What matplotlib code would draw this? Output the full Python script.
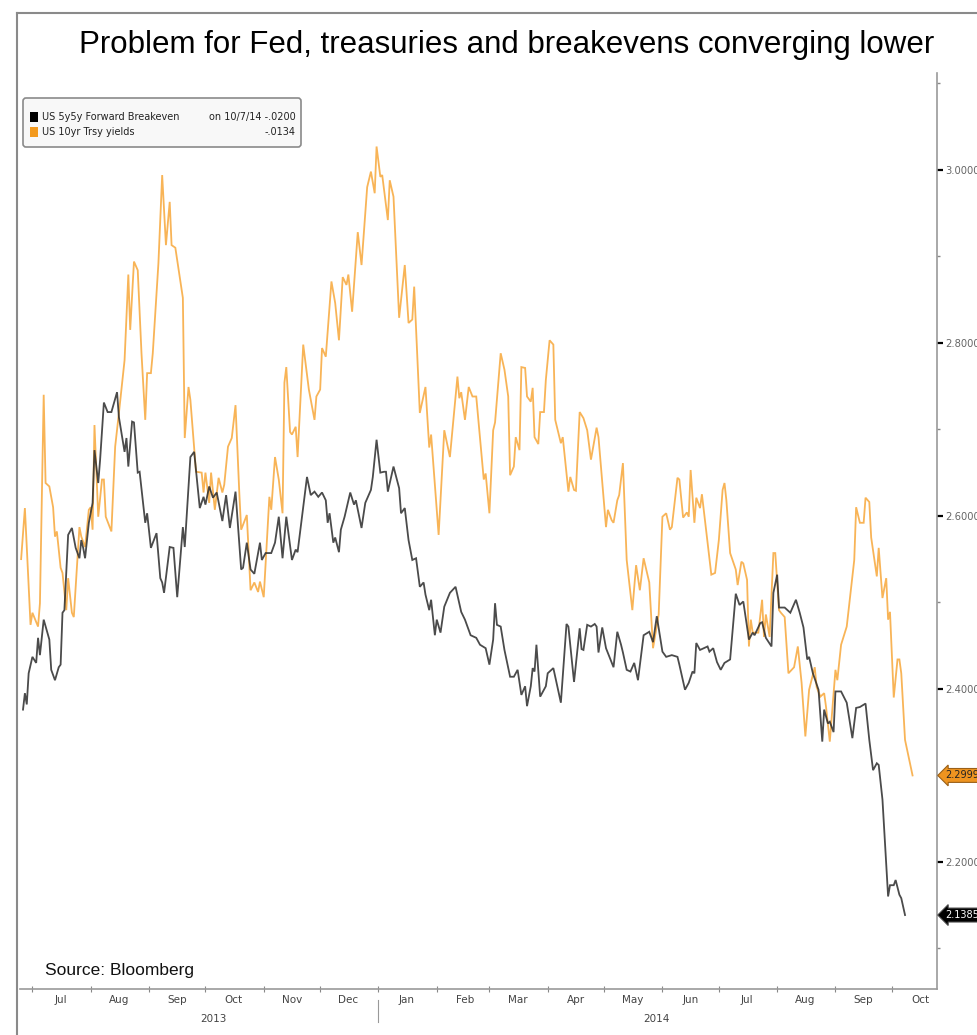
import matplotlib
matplotlib.use("Agg")
import matplotlib.pyplot as plt
import matplotlib.dates as mdates
import pandas as pd
from matplotlib.patches import FancyBboxPatch
from matplotlib.lines import Line2D

plt.rcParams['font.family'] = ['Liberation Sans', 'DejaVu Sans']

# day offsets from 2013-07-01 and values
START = pd.Timestamp("2013-07-01")

be_days = [-5, -4, -3, -2, 0, 2, 3, 4, 6, 9, 10, 12, 14, 15, 16, 17, 19, 21, 23, 25,
           26, 27, 28, 30, 32, 33, 35, 36, 38, 40, 42, 45, 46, 49, 50, 51, 53, 54, 56, 57,
           60, 61, 63, 66, 68, 69, 70, 73, 75, 77, 80, 81, 84, 86, 89, 91, 92, 94, 96, 98,
           101, 103, 105, 108, 111, 112, 114, 116, 118, 121, 122, 124, 127, 129, 131, 133, 135, 138, 140, 141,
           146, 148, 150, 152, 154, 156, 157, 158, 160, 161, 163, 164, 166, 169, 171, 172, 175, 177, 180, 181,
           183, 185, 187, 188, 189, 192, 195, 196, 198, 200, 202, 204, 206, 208, 209, 211, 212, 214, 215, 217,
           219, 222, 225, 228, 230, 233, 236, 238, 241, 243, 245, 246, 247, 249, 251, 254, 256, 258, 260, 262,
           263, 265, 266, 267, 268, 270, 273, 274, 277, 281, 284, 285, 288, 291, 292, 293, 295, 297, 299, 300,
           301, 303, 305, 309, 311, 313, 314, 316, 318, 320, 322, 325, 328, 330, 332, 335, 337, 340, 343, 344,
           347, 349, 351, 352, 353, 355, 359, 360, 362, 364, 366, 368, 371, 374, 376, 378, 381, 383, 384, 387,
           388, 390, 393, 394, 396, 397, 400, 403, 406, 408, 410, 412, 413, 415, 418, 420, 421, 423, 424, 426,
           427, 430, 433, 436, 438, 440, 443, 445, 447, 449, 450, 452, 455, 456, 458, 459, 461, 462, 464]
be_vals = [2.376, 2.395, 2.382, 2.418, 2.437, 2.430, 2.459, 2.439, 2.480, 2.457, 2.422, 2.410, 2.425, 2.428, 2.488, 2.491, 2.578, 2.586, 2.563, 2.551,
           2.572, 2.563, 2.551, 2.592, 2.615, 2.676, 2.638, 2.665, 2.731, 2.720, 2.720, 2.743, 2.714, 2.674, 2.690, 2.657, 2.709, 2.708, 2.650, 2.651,
           2.592, 2.603, 2.563, 2.580, 2.528, 2.523, 2.511, 2.564, 2.563, 2.506, 2.587, 2.564, 2.668, 2.674, 2.609, 2.622, 2.613, 2.634, 2.621, 2.627,
           2.594, 2.624, 2.586, 2.628, 2.538, 2.540, 2.569, 2.538, 2.533, 2.569, 2.549, 2.557, 2.557, 2.569, 2.599, 2.551, 2.599, 2.549, 2.561, 2.558,
           2.645, 2.624, 2.628, 2.622, 2.627, 2.618, 2.592, 2.603, 2.569, 2.575, 2.558, 2.584, 2.599, 2.627, 2.613, 2.618, 2.586, 2.615, 2.630, 2.645,
           2.688, 2.650, 2.651, 2.651, 2.628, 2.657, 2.632, 2.603, 2.609, 2.572, 2.549, 2.551, 2.518, 2.523, 2.509, 2.491, 2.503, 2.462, 2.480, 2.465,
           2.495, 2.511, 2.518, 2.489, 2.480, 2.462, 2.459, 2.451, 2.447, 2.428, 2.457, 2.499, 2.474, 2.472, 2.445, 2.414, 2.414, 2.422, 2.393, 2.403,
           2.380, 2.403, 2.424, 2.420, 2.451, 2.391, 2.403, 2.418, 2.424, 2.384, 2.475, 2.472, 2.408, 2.470, 2.446, 2.445, 2.474, 2.472, 2.475, 2.472,
           2.442, 2.471, 2.447, 2.425, 2.466, 2.451, 2.442, 2.422, 2.420, 2.430, 2.410, 2.462, 2.466, 2.454, 2.484, 2.443, 2.437, 2.439, 2.437, 2.428,
           2.399, 2.407, 2.420, 2.418, 2.453, 2.445, 2.449, 2.443, 2.447, 2.431, 2.422, 2.430, 2.434, 2.510, 2.497, 2.501, 2.457, 2.465, 2.462, 2.476,
           2.477, 2.459, 2.449, 2.511, 2.532, 2.494, 2.494, 2.488, 2.503, 2.488, 2.471, 2.434, 2.437, 2.418, 2.399, 2.339, 2.376, 2.360, 2.362, 2.350,
           2.397, 2.397, 2.384, 2.343, 2.378, 2.379, 2.383, 2.341, 2.306, 2.314, 2.312, 2.272, 2.160, 2.173, 2.173, 2.179, 2.162, 2.158, 2.1385]

ty_days = [-6, -4, -1, 0, 3, 4, 6, 7, 9, 11, 12, 13, 15, 16, 18, 19, 21, 22, 23, 25,
           26, 28, 30, 31, 32, 33, 35, 37, 38, 39, 42, 44, 46, 49, 51, 52, 54, 56, 58, 60,
           61, 63, 64, 67, 69, 71, 73, 74, 76, 80, 81, 83, 84, 87, 90, 91, 92, 94, 95, 97,
           99, 101, 102, 104, 106, 108, 110, 111, 114, 116, 118, 120, 121, 123, 126, 127, 129, 131, 133, 134,
           135, 137, 138, 140, 141, 144, 147, 150, 151, 153, 154, 156, 159, 161, 163, 165, 167, 168, 170, 173,
           175, 178, 180, 182, 183, 185, 186, 189, 190, 192, 195, 198, 200, 202, 203, 206, 209, 211, 212, 216,
           219, 222, 226, 227, 228, 230, 232, 234, 236, 240, 241, 243, 245, 246, 249, 251, 253, 254, 256, 257,
           259, 260, 262, 263, 265, 266, 267, 269, 270, 272, 273, 275, 277, 278, 281, 282, 285, 286, 288, 289,
           291, 293, 295, 297, 300, 301, 305, 306, 308, 309, 311, 312, 314, 316, 319, 321, 323, 325, 328, 330,
           333, 335, 337, 339, 340, 343, 344, 346, 348, 349, 350, 352, 353, 355, 356, 359, 361, 363, 365, 367,
           368, 369, 371, 374, 375, 377, 378, 380, 381, 382, 383, 386, 388, 389, 390, 392, 394, 395, 397, 398,
           400, 402, 405, 407, 409, 411, 413, 416, 417, 419, 421, 422, 424, 427, 428, 430, 433, 435, 437, 438,
           440, 442, 443, 445, 446, 449, 450, 452, 454, 455, 456, 458, 460, 461, 462, 464, 468]
ty_vals = [2.550, 2.609, 2.474, 2.488, 2.472, 2.499, 2.740, 2.638, 2.634, 2.610, 2.576, 2.582, 2.540, 2.534, 2.491, 2.528, 2.488, 2.483, 2.518, 2.587,
           2.576, 2.564, 2.607, 2.610, 2.584, 2.705, 2.599, 2.642, 2.642, 2.599, 2.582, 2.680, 2.719, 2.780, 2.879, 2.815, 2.894, 2.884, 2.788, 2.711,
           2.765, 2.765, 2.788, 2.892, 2.994, 2.913, 2.963, 2.913, 2.910, 2.852, 2.690, 2.749, 2.734, 2.651, 2.650, 2.627, 2.650, 2.615, 2.650, 2.607,
           2.644, 2.627, 2.636, 2.680, 2.690, 2.728, 2.627, 2.584, 2.601, 2.514, 2.523, 2.512, 2.524, 2.506, 2.622, 2.607, 2.668, 2.642, 2.603, 2.754,
           2.772, 2.697, 2.694, 2.703, 2.668, 2.798, 2.746, 2.711, 2.738, 2.746, 2.794, 2.784, 2.871, 2.846, 2.803, 2.876, 2.867, 2.879, 2.836, 2.928,
           2.890, 2.980, 2.998, 2.973, 3.027, 2.992, 2.994, 2.942, 2.988, 2.969, 2.829, 2.890, 2.823, 2.827, 2.865, 2.719, 2.749, 2.679, 2.694, 2.578,
           2.699, 2.668, 2.761, 2.736, 2.743, 2.711, 2.749, 2.738, 2.738, 2.642, 2.649, 2.603, 2.699, 2.708, 2.788, 2.769, 2.738, 2.647, 2.657, 2.691,
           2.676, 2.772, 2.771, 2.738, 2.732, 2.748, 2.691, 2.683, 2.720, 2.720, 2.757, 2.803, 2.798, 2.711, 2.684, 2.691, 2.628, 2.645, 2.630, 2.629,
           2.720, 2.713, 2.699, 2.665, 2.702, 2.691, 2.587, 2.607, 2.595, 2.592, 2.618, 2.624, 2.661, 2.549, 2.491, 2.543, 2.514, 2.551, 2.523, 2.447,
           2.486, 2.599, 2.603, 2.584, 2.587, 2.644, 2.642, 2.598, 2.604, 2.599, 2.653, 2.592, 2.621, 2.609, 2.625, 2.569, 2.532, 2.534, 2.572, 2.630,
           2.638, 2.618, 2.557, 2.538, 2.520, 2.547, 2.545, 2.526, 2.449, 2.480, 2.465, 2.465, 2.503, 2.460, 2.486, 2.460, 2.557, 2.557, 2.491, 2.488,
           2.483, 2.418, 2.425, 2.449, 2.407, 2.345, 2.399, 2.425, 2.402, 2.391, 2.395, 2.379, 2.339, 2.422, 2.410, 2.451, 2.472, 2.511, 2.549, 2.610,
           2.592, 2.592, 2.621, 2.616, 2.575, 2.530, 2.563, 2.505, 2.528, 2.480, 2.489, 2.390, 2.434, 2.434, 2.418, 2.341, 2.2999]

y_major = [2.2, 2.4, 2.6, 2.8, 3.0]
y_minor = [2.1, 2.3, 2.5, 2.7, 2.9, 3.1]

title = "Problem for Fed, treasuries and breakevens converging lower"
leg_be = "US 5y5y Forward Breakeven"
leg_be_right = "on 10/7/14 -.0200"
leg_ty = "US 10yr Trsy yields"
leg_ty_right = "-.0134"

ORANGE = "#F7A73A"
BLACK = "#2b2b2b"
NARROW = ['Liberation Sans Narrow', 'DejaVu Sans']

be_dates = START + pd.to_timedelta(be_days, unit="D")
ty_dates = START + pd.to_timedelta(ty_days, unit="D")

fig = plt.figure(figsize=(9.78, 10.35), dpi=100)
ax = fig.add_axes([20 / 978, 1 - 989 / 1035, 917 / 978, 916 / 1035])

ax.plot(ty_dates, ty_vals, color=ORANGE, lw=1.3, alpha=0.85, solid_joinstyle="miter")
ax.plot(be_dates, be_vals, color=BLACK, lw=1.3, alpha=0.85, solid_joinstyle="miter")

ax.set_xlim(START - pd.Timedelta(days=6.6), START + pd.Timedelta(days=481))
ax.set_ylim(2.053, 3.112)

for s in ["left", "top"]:
    ax.spines[s].set_visible(False)
for s in ["right", "bottom"]:
    ax.spines[s].set_color("#9a9a9a")
    ax.spines[s].set_linewidth(1.2)

# y axis on the right (labels run off the right edge, as in the screenshot)
ax.yaxis.tick_right()
ax.set_yticks(y_major)
ax.set_yticklabels([f"{v:.4f}" for v in y_major], fontfamily=NARROW)
ax.set_yticks(y_minor, minor=True)
ax.tick_params(axis="y", which="major", length=4, width=1.6, color="black",
               labelsize=7.2, labelcolor="#666666", pad=2)
ax.tick_params(axis="y", which="minor", length=2, width=1, color="#888888")

# x axis: ticks at month starts, labels mid-month
ax.xaxis.set_major_locator(mdates.MonthLocator())
ax.xaxis.set_major_formatter(plt.NullFormatter())
ax.xaxis.set_minor_locator(mdates.MonthLocator(bymonthday=16))
ax.xaxis.set_minor_formatter(mdates.DateFormatter("%b"))
ax.tick_params(axis="x", which="major", length=4, direction="inout", color="#888888")
ax.tick_params(axis="x", which="minor", length=0, labelsize=7.5, labelcolor="#444444", pad=4)
for lab in ax.get_xticklabels(minor=True):
    lab.set_fontfamily(NARROW)

xt = ax.get_xaxis_transform()
ax.text(pd.Timestamp("2013-10-05"), -0.027, "2013", transform=xt, ha="center", va="top",
        fontsize=7.5, color="#444444", fontfamily=NARROW)
ax.text(pd.Timestamp("2014-05-29"), -0.027, "2014", transform=xt, ha="center", va="top",
        fontsize=7.5, color="#444444", fontfamily=NARROW)
ax.add_line(Line2D([pd.Timestamp("2014-01-01")] * 2, [-0.012, -0.036], transform=xt,
                   color="#999999", lw=0.8, clip_on=False))

# last value tags
yt = ax.get_yaxis_transform()
ax.text(1.009, ty_vals[-1], f"{ty_vals[-1]:.4f}", transform=yt, ha="left", va="center",
        fontsize=7, color="#222222", fontfamily=NARROW, clip_on=False,
        bbox=dict(boxstyle="larrow,pad=0.2", fc="#EE9420", ec="#9a6018", lw=0.8))
ax.text(1.009, be_vals[-1], f"{be_vals[-1]:.4f}", transform=yt, ha="left", va="center",
        fontsize=7, color="white", fontfamily=NARROW, clip_on=False,
        bbox=dict(boxstyle="larrow,pad=0.2", fc="black", ec="#444444", lw=0.8))

# legend box
fig.patches.append(FancyBboxPatch((23 / 978, 1 - 147 / 1035), 278 / 978, 49 / 1035,
                                  boxstyle="round,pad=0,rounding_size=0.003",
                                  transform=fig.transFigure, fc="#f8f8f8", ec="#8a8a8a", lw=1.2))
for yy, col, left, right in [(117, "black", leg_be, leg_be_right),
                             (132, "#F39A1E", leg_ty, leg_ty_right)]:
    fy = 1 - yy / 1035
    fig.patches.append(plt.Rectangle((30 / 978, fy - 0.0045), 8 / 978, 0.009,
                                     transform=fig.transFigure, fc=col, ec="none"))
    fig.text(42 / 978, fy, left, fontsize=7, va="center", color="#222222", fontfamily=NARROW)
    fig.text(296 / 978, fy, right, fontsize=7, va="center", ha="right", color="#222222",
             fontfamily=NARROW)

# title, source, frame
fig.text(0.518, 1 - 45 / 1035, title, ha="center", va="center", fontsize=22.5, color="black")
fig.text(45 / 978, 1 - 970 / 1035, "Source: Bloomberg", ha="left", va="center",
         fontsize=12.5, color="#111111")
fig.add_artist(Line2D([17 / 978, 17 / 978], [0, 1 - 13 / 1035], transform=fig.transFigure,
                      color="#8a8a8a", lw=1.5))
fig.add_artist(Line2D([17 / 978, 1], [1 - 13 / 1035] * 2, transform=fig.transFigure,
                      color="#8a8a8a", lw=1.5))

fig.savefig("out.png", dpi=100)
